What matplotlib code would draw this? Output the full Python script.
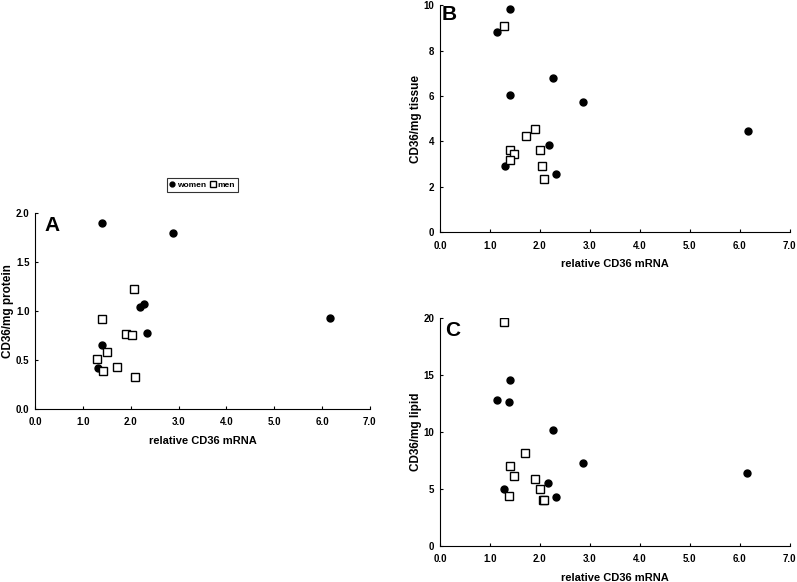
import matplotlib
matplotlib.use("Agg")
import matplotlib.pyplot as plt
from matplotlib.lines import Line2D

plt.rcParams["font.family"] = ["Liberation Sans", "DejaVu Sans"]
plt.rcParams["font.weight"] = "bold"

# Panel A: CD36/mg protein
a_women_x = [1.41, 2.88, 2.19, 2.28, 2.35, 1.41, 1.31, 6.16]
a_women_y = [1.90, 1.80, 1.04, 1.07, 0.78, 0.65, 0.42, 0.93]
a_men_x = [2.07, 1.41, 1.90, 2.02, 1.50, 1.29, 1.43, 1.72, 2.09]
a_men_y = [1.23, 0.92, 0.77, 0.76, 0.58, 0.51, 0.39, 0.43, 0.33]

# Panel B: CD36/mg tissue
b_women_x = [1.40, 1.15, 2.27, 1.40, 2.87, 6.16, 2.18, 1.30, 2.32]
b_women_y = [9.85, 8.81, 6.78, 6.05, 5.72, 4.47, 3.84, 2.93, 2.56]
b_men_x = [1.29, 1.91, 1.72, 1.41, 2.00, 1.48, 1.40, 2.05, 2.08]
b_men_y = [9.08, 4.54, 4.26, 3.63, 3.62, 3.46, 3.19, 2.90, 2.33]

# Panel C: CD36/mg lipid
c_women_x = [1.41, 1.14, 1.39, 2.27, 2.87, 6.15, 2.17, 1.29, 2.33]
c_women_y = [14.55, 12.8, 12.6, 10.16, 7.26, 6.38, 5.53, 5.0, 4.27]
c_men_x = [1.28, 1.71, 1.41, 1.48, 1.91, 2.00, 1.39, 2.06, 2.08]
c_men_y = [19.6, 8.14, 7.03, 6.09, 5.89, 5.0, 4.36, 4.04, 4.04]

x_ticks = [0, 1, 2, 3, 4, 5, 6, 7]
x_labels = ["0.0", "1.0", "2.0", "3.0", "4.0", "5.0", "6.0", "7.0"]


def draw_panel(ax, wx, wy, mx, my, ymax, yticks, ylabels, ylabel,
               letter, letter_pos):
    ax.plot(wx, wy, "o", color="black", markersize=5, linestyle="none")
    ax.plot(mx, my, "s", markerfacecolor="white", markeredgecolor="black",
            markeredgewidth=1.0, markersize=5.2, linestyle="none")
    ax.set_xlim(0, 7)
    ax.set_ylim(0, ymax)
    ax.set_xticks(x_ticks)
    ax.set_xticklabels(x_labels)
    ax.set_yticks(yticks)
    ax.set_yticklabels(ylabels)
    ax.spines["top"].set_visible(False)
    ax.spines["right"].set_visible(False)
    ax.tick_params(labelsize=7, length=2.5, width=0.8, direction="in")
    ax.tick_params(axis="x", pad=6)
    ax.tick_params(axis="y", pad=4)
    ax.set_ylabel(ylabel, fontsize=8.5, fontweight="bold", labelpad=1)
    ax.set_xlabel("relative CD36 mRNA", fontsize=8, fontweight="bold",
                  labelpad=6)
    ax.text(letter_pos[0], letter_pos[1], letter, transform=ax.transAxes,
            fontsize=15, fontweight="bold", va="top", ha="left")


fig = plt.figure(figsize=(7.97, 5.82), dpi=100)
ax_a = fig.add_axes([0.044, 0.297, 0.420, 0.337])
ax_b = fig.add_axes([0.552, 0.601, 0.439, 0.390])
ax_c = fig.add_axes([0.552, 0.062, 0.439, 0.392])

draw_panel(ax_a, a_women_x, a_women_y, a_men_x, a_men_y, 2.0,
           [0, 0.5, 1.0, 1.5, 2.0], ["0.0", "0.5", "1.0", "1.5", "2.0"],
           "CD36/mg protein", "A", (0.028, 0.985))
draw_panel(ax_b, b_women_x, b_women_y, b_men_x, b_men_y, 10,
           [0, 2, 4, 6, 8, 10], ["0", "2", "4", "6", "8", "10"],
           "CD36/mg tissue", "B", (0.006, 1.0))
draw_panel(ax_c, c_women_x, c_women_y, c_men_x, c_men_y, 20,
           [0, 5, 10, 15, 20], ["0", "5", "10", "15", "20"],
           "CD36/mg lipid", "C", (0.014, 0.985))

handles = [
    Line2D([], [], marker="o", color="black", linestyle="none", markersize=3.5),
    Line2D([], [], marker="s", markerfacecolor="white", markeredgecolor="black",
           linestyle="none", markersize=4.2),
]
leg = fig.legend(handles, ["women", "men"], loc="center",
                 bbox_to_anchor=(0.254, 0.682), ncol=2, fontsize=6,
                 frameon=True, fancybox=False, handlelength=0.6,
                 handletextpad=0.25, columnspacing=0.5, borderpad=0.4)
leg.get_frame().set_edgecolor("black")
leg.get_frame().set_linewidth(0.8)

fig.savefig("out.png", dpi=100)
